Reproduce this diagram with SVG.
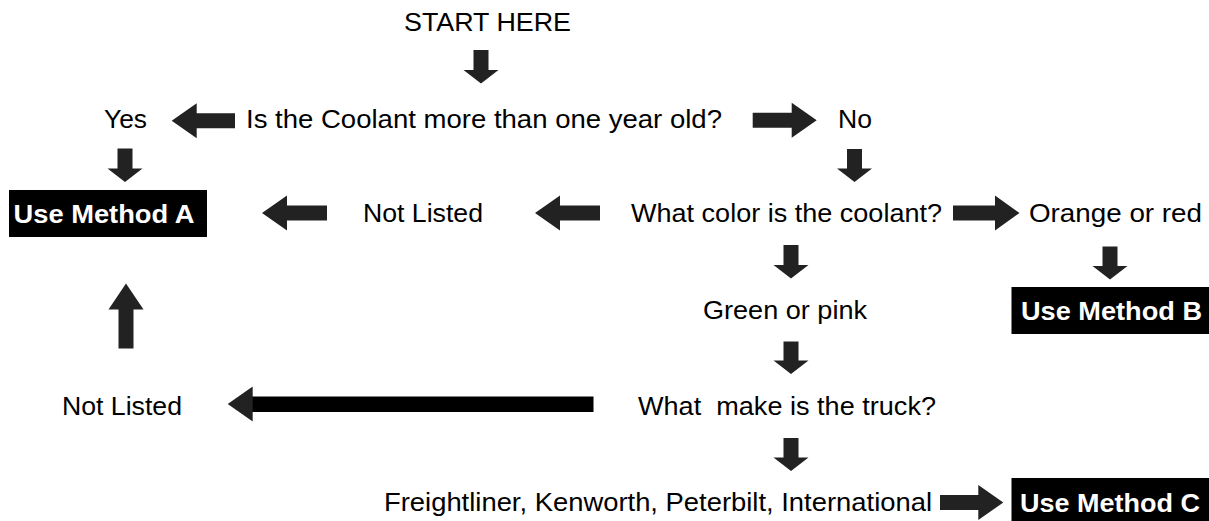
<svg xmlns="http://www.w3.org/2000/svg" width="1209" height="521" viewBox="0 0 1209 521">
<style>
text{font-family:"Liberation Sans",Arial,sans-serif;font-size:26.5px;fill:#000}
.b{font-weight:bold;fill:#fff}
.box{fill:#000}
.arr{fill:#222}
.sh{fill:#000}
</style>
<rect width="1209" height="521" fill="#fff"/>
<g id="start"><text x="404" y="31" textLength="167" lengthAdjust="spacingAndGlyphs">START HERE</text></g>
<g id="q1"><text x="246" y="127.5" textLength="476" lengthAdjust="spacingAndGlyphs">Is the Coolant more than one year old?</text></g>
<g id="yes"><text x="104" y="127.5" textLength="43" lengthAdjust="spacingAndGlyphs">Yes</text></g>
<g id="no"><text x="838" y="127.5" textLength="34" lengthAdjust="spacingAndGlyphs">No</text></g>
<g id="methodA"><rect class="box" x="9" y="190" width="198" height="47"/><text class="b" x="13.5" y="222.5" textLength="181" lengthAdjust="spacingAndGlyphs">Use Method A</text></g>
<g id="notlisted1"><text x="363" y="222" textLength="120" lengthAdjust="spacingAndGlyphs">Not Listed</text></g>
<g id="q2"><text x="631" y="222" textLength="311" lengthAdjust="spacingAndGlyphs">What color is the coolant?</text></g>
<g id="orange"><text x="1029" y="222" textLength="173" lengthAdjust="spacingAndGlyphs">Orange or red</text></g>
<g id="methodB"><rect class="box" x="1011.5" y="287" width="197.5" height="47"/><text class="b" x="1021" y="319.5" textLength="181" lengthAdjust="spacingAndGlyphs">Use Method B</text></g>
<g id="green"><text x="703" y="319" textLength="164" lengthAdjust="spacingAndGlyphs">Green or pink</text></g>
<g id="notlisted2"><text x="62" y="415" textLength="120" lengthAdjust="spacingAndGlyphs">Not Listed</text></g>
<g id="q3"><text x="638" y="415" textLength="298" lengthAdjust="spacingAndGlyphs" xml:space="preserve">What  make is the truck?</text></g>
<g id="makes"><text x="384" y="511" textLength="548" lengthAdjust="spacingAndGlyphs">Freightliner, Kenworth, Peterbilt, International</text></g>
<g id="methodC"><rect class="box" x="1011.5" y="478" width="197.5" height="50"/><text class="b" x="1020" y="511.5" textLength="180" lengthAdjust="spacingAndGlyphs">Use Method C</text></g>
<g id="connectors">
<path class="arr" d="M473.5 50H488.5V70H498.5L481 83.5L463.5 70H473.5Z"/>
<path class="arr" d="M117.5 148.5H132.5V168.5H142.5L125 182L107.5 168.5H117.5Z"/>
<path class="arr" d="M847 149H862V168.5H872L854.5 182L837 168.5H847Z"/>
<path class="arr" d="M783.5 245H798.5V265H808.5L791 278.5L773.5 265H783.5Z"/>
<path class="arr" d="M1102.5 246.5H1117.5V266H1127.5L1110 279.5L1092.5 266H1102.5Z"/>
<path class="arr" d="M783.5 341.5H798.5V360.5H808.5L791 374L773.5 360.5H783.5Z"/>
<path class="arr" d="M783.5 438H798.5V457.5H808.5L791 471L773.5 457.5H783.5Z"/>
<path class="arr" d="M118.5 348.5H133.5V309.5H143.5L126 283.5L108.5 309.5H118.5Z"/>
<path class="arr" d="M235 113.3V128.3H196.7V138.3L171.7 120.8L196.7 103.3V113.3Z"/>
<path class="arr" d="M327 205.5V220.5H287V230.5L262 213L287 195.5V205.5Z"/>
<path class="arr" d="M600 205.5V220.5H560V230.5L535 213L560 195.5V205.5Z"/>
<rect class="sh" x="252" y="396.5" width="341.5" height="15.5"/>
<path class="arr" d="M252.7 386.5V421.5L227.7 404Z"/>
<path class="arr" d="M752.7 112.8H791.7V102.8L816.7 120.3L791.7 137.8V127.8H752.7Z"/>
<path class="arr" d="M953 205.5H995V195.5L1019.5 213L995 230.5V220.5H953Z"/>
<path class="arr" d="M940 495H978.3V485L1003.3 502.5L978.3 520V510H940Z"/>
</g>
</svg>
